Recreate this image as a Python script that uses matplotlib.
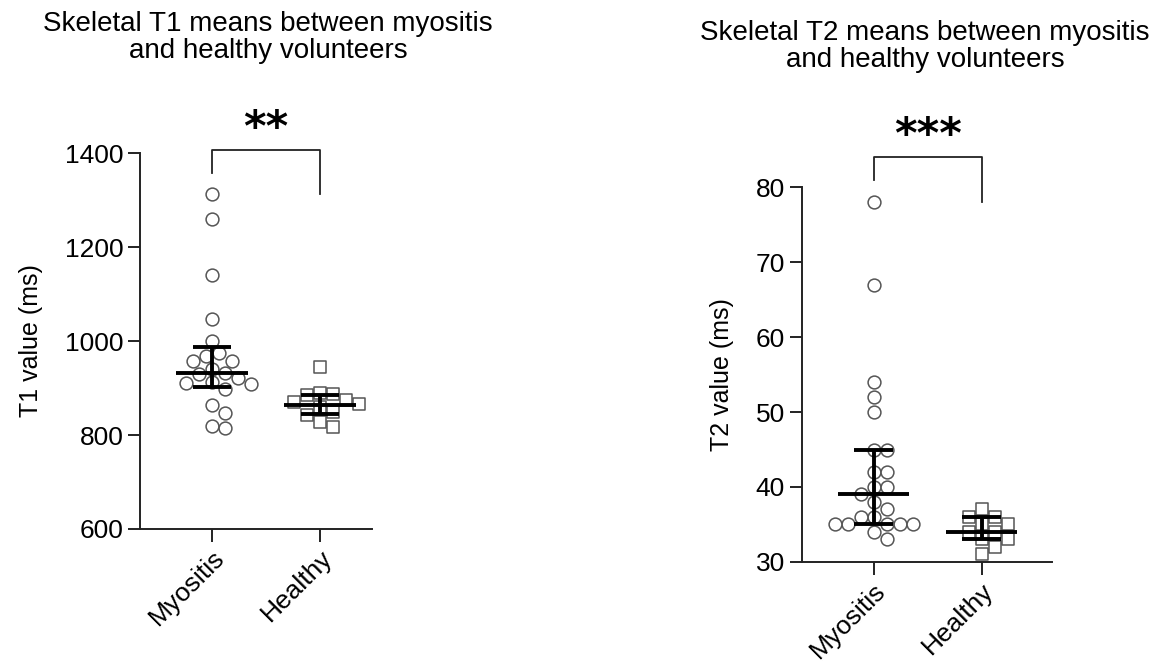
import numpy as np
import matplotlib
matplotlib.use("Agg")
import matplotlib.pyplot as plt

plt.rcParams['font.family'] = ['Liberation Sans', 'DejaVu Sans']

groups = ["Myositis", "Healthy"]

# skeletal T1 (ms)
t1_myositis = [1313, 1260, 1140, 1047, 1000, 975, 968, 957, 957, 940, 932, 930,
               921, 913, 911, 908, 898, 864, 847, 820, 815]
t1_healthy = [945, 889, 887, 885, 875, 870, 866, 860, 849, 843, 828, 817]
# median, lower, upper
t1_summary = [(932, 902, 987), (864, 845, 885)]

# skeletal T2 (ms)
t2_myositis = [78, 67, 54, 52, 50, 45, 45, 42, 42, 40, 40, 39, 38, 37, 36, 36,
               35, 35, 35, 35, 35, 34, 33]
t2_healthy = [37, 36, 36, 35, 35, 34, 34, 33, 33, 32, 31]
t2_summary = [(39, 35, 45), (34, 33, 36)]


def swarm(ax, xc, vals, diam):
    # place points side by side so they don't overlap (pixel space)
    fig = ax.figure
    fig.canvas.draw()
    tr = ax.transData
    x0 = tr.transform((xc, 0))[0]
    placed = []
    out = []
    for v in vals:
        y = tr.transform((xc, v))[1]
        step = diam * 0.5
        for k in range(0, 40):
            offs = [0.0] if k == 0 else [k * step, -k * step]
            ok = None
            for o in offs:
                if all((o - px) ** 2 + (y - py) ** 2 >= (diam * 0.95) ** 2 for px, py in placed):
                    ok = o
                    break
            if ok is not None:
                break
        placed.append((ok, y))
        xd = tr.inverted().transform((x0 + ok, y))[0]
        out.append(xd)
    return out


def panel(ax, data, summary, ylim, yticks, ylabel, stars, bracket, markers, xlim):
    ax.set_xlim(*xlim)
    ax.set_ylim(*ylim)
    for i, (vals, mk) in enumerate(zip(data, markers)):
        xs = swarm(ax, i, vals, 13)
        ax.scatter(xs, vals, s=85, marker=mk, facecolor='white',
                   edgecolor='#555555', linewidth=1.1, zorder=2, clip_on=False)
        med, lo, hi = summary[i]
        ax.plot([i - 0.33, i + 0.33], [med, med], color='black', lw=2.8, zorder=3,
                solid_capstyle='butt')
        ax.plot([i, i], [lo, hi], color='black', lw=2.8, zorder=3, solid_capstyle='butt')
        for e in (lo, hi):
            ax.plot([i - 0.18, i + 0.18], [e, e], color='black', lw=2.8, zorder=3,
                    solid_capstyle='butt')

    top, left_end, right_end = bracket
    ax.plot([0, 0, 1, 1], [left_end, top, top, right_end], color='#222222', lw=1.3,
            clip_on=False)
    ax.annotate(stars, (0.5, top), xytext=(0, 0), textcoords='offset points',
                ha='center', va='bottom', fontsize=31, annotation_clip=False,
                fontweight='bold', family='DejaVu Sans')

    ax.set_xticks([0, 1])
    ax.set_xticklabels(groups, rotation=45, ha='right', rotation_mode='anchor',
                       fontsize=18)
    ax.set_yticks(yticks)
    ax.tick_params(axis='both', labelsize=19, length=9, width=1.4, color='#222222',
                   pad=3)
    ax.set_ylabel(ylabel, fontsize=18, labelpad=16)
    for s in ('top', 'right'):
        ax.spines[s].set_visible(False)
    for s in ('left', 'bottom'):
        ax.spines[s].set_linewidth(1.4)
        ax.spines[s].set_color('#222222')


fig = plt.figure(figsize=(11.62, 6.72), dpi=100)
ax1 = fig.add_axes([0.1205, 0.2128, 0.1995, 0.5595])
ax2 = fig.add_axes([0.690, 0.1637, 0.215, 0.558])

panel(ax1, [t1_myositis, t1_healthy], t1_summary, (600, 1400),
      [600, 800, 1000, 1200, 1400], "T1 value (ms)",
      "**", (1406, 1357, 1313), ['o', 's'], (-0.667, 1.48))
panel(ax2, [t2_myositis, t2_healthy], t2_summary, (30, 80),
      [30, 40, 50, 60, 70, 80], "T2 value (ms)",
      "***", (84, 81, 78), ['o', 's'], (-0.667, 1.65))

fig.text(0.2305, 0.944, "Skeletal T1 means between myositis\nand healthy volunteers",
         ha='center', va='center', fontsize=20, linespacing=1.05)
fig.text(0.796, 0.931, "Skeletal T2 means between myositis\nand healthy volunteers",
         ha='center', va='center', fontsize=20, linespacing=1.05)

fig.savefig("out.png", dpi=100)
